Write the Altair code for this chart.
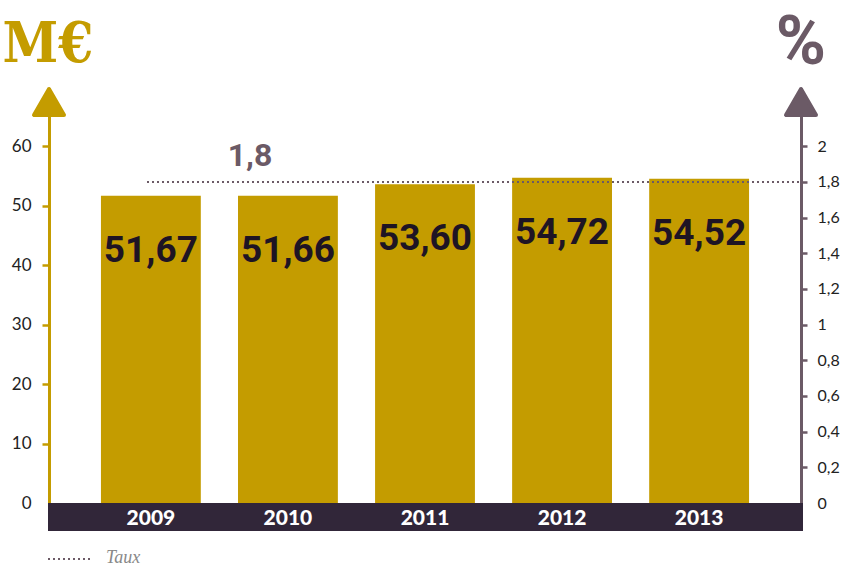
import altair as alt
import pandas as pd

# ---- data ----
years = ["2009", "2010", "2011", "2012", "2013"]
values = [51.67, 51.66, 53.60, 54.72, 54.52]
rate = [1.8]
rate_label = ["1,8"]
left_ticks = [0, 10, 20, 30, 40, 50, 60]
right_ticks = [0, 0.2, 0.4, 0.6, 0.8, 1, 1.2, 1.4, 1.6, 1.8, 2]
legend_label = ["Taux"]

GOLD = "#c49c00"
PURPLE = "#6b5a66"
DARK = "#312639"
COND = "Roboto, DejaVu Sans Condensed, sans-serif"
W, H = 752, 415
YMAX = 69.8
RMAX = YMAX / 30

df = pd.DataFrame({
    "year": years,
    "value": values,
    "label": [f"{v:.2f}".replace(".", ",") for v in values],
})
one = pd.DataFrame({"a": [0]})
rate_df = pd.DataFrame({"rate": rate, "label": rate_label})

xenc = alt.X(
    "year:N", sort=years,
    scale=alt.Scale(paddingInner=0.2714, paddingOuter=0.379),
    axis=alt.Axis(title=None, labelColor="white", labelFontSize=21, labelFontWeight=900,
                  labelFont="Lato", ticks=False, tickSize=0, domain=False, labelPadding=15,
                  labelBaseline="middle", labelAngle=0, zindex=1, grid=False),
)
yleft = alt.Y(
    "value:Q", scale=alt.Scale(domain=[0, YMAX], nice=False, zero=True),
    axis=alt.Axis(title=None, orient="left", values=left_ticks, grid=False,
                  domainColor=GOLD, domainWidth=3,
                  tickColor={"condition": {"test": "datum.value == 0", "value": "transparent"}, "value": GOLD},
                  tickWidth=2.5, tickSize=7, labelPadding=11, labelFont="Lato",
                  labelFontSize=17, labelColor="#222222"),
)

band = alt.Chart(one).mark_rect(color=DARK).encode(
    x=alt.value(-1), x2=alt.value(W + 2), y=alt.value(H), y2=alt.value(H + 28))

bars = alt.Chart(df).mark_bar(color=GOLD).encode(x=xenc, y=yleft)

labels = alt.Chart(df).mark_text(
    font=COND, fontWeight="bold", fontSize=37, color="#1e1424",
    baseline="middle", dy=55).encode(
    x=alt.X("year:N", sort=years),
    y=alt.Y("value:Q", scale=alt.Scale(domain=[0, YMAX], nice=False)),
    text="label:N")

larrow = alt.Chart(one).mark_point(
    shape="triangle-up", filled=True, fill=GOLD, stroke=GOLD, strokeWidth=4,
    strokeJoin="round", size=900, opacity=1).encode(x=alt.value(0), y=alt.value(14))

mtitle = alt.Chart(one).mark_text(
    text="M€", font="DejaVu Serif Condensed, DejaVu Serif, serif", fontWeight="bold",
    fontSize=56, color=GOLD, align="center", baseline="middle").encode(
    x=alt.value(-1), y=alt.value(-43))

leg_rule = alt.Chart(one).mark_rule(color=PURPLE, strokeDash=[2, 3], strokeWidth=2).encode(
    x=alt.value(-1), x2=alt.value(41), y=alt.value(H + 56))
leg_text = alt.Chart(pd.DataFrame({"t": legend_label})).mark_text(
    font="Liberation Serif", fontStyle="italic", fontSize=18, color="#888888",
    align="left", baseline="middle").encode(x=alt.value(57), y=alt.value(H + 55), text="t:N")

left = alt.layer(band, bars, labels, larrow, mtitle, leg_rule, leg_text)

yright = alt.Y(
    "rate:Q", scale=alt.Scale(domain=[0, RMAX], nice=False, zero=True),
    axis=alt.Axis(title=None, orient="right", values=right_ticks, grid=False,
                  domainColor=PURPLE, domainWidth=3,
                  tickColor={"condition": {"test": "datum.value == 0", "value": "transparent"}, "value": PURPLE},
                  tickWidth=2.5, tickSize=6, labelPadding=10, labelFont="Lato",
                  labelFontSize=16, labelColor="#222222",
                  labelExpr="replace(format(datum.value, '~g'), '.', ',')"),
)

rule = alt.Chart(rate_df).mark_rule(color=PURPLE, strokeDash=[2, 3], strokeWidth=2).encode(
    x=alt.value(98), x2=alt.value(W), y=yright)

rule_text = alt.Chart(rate_df).mark_text(
    font=COND, fontWeight="bold", fontSize=32, color=PURPLE,
    baseline="middle", align="center", dy=-26).encode(
    x=alt.value(201),
    y=alt.Y("rate:Q", scale=alt.Scale(domain=[0, RMAX], nice=False)),
    text="label:N")

rarrow = alt.Chart(one).mark_point(
    shape="triangle-up", filled=True, fill=PURPLE, stroke=PURPLE, strokeWidth=4,
    strokeJoin="round", size=900, opacity=1).encode(x=alt.value(W), y=alt.value(14))

pct = alt.Chart(one).mark_text(
    text="%", font=COND, fontWeight="bold", fontSize=68, color=PURPLE,
    align="center", baseline="middle").encode(x=alt.value(W), y=alt.value(-44))

right = alt.layer(rule, rule_text, rarrow, pct)

chart = alt.layer(left, right).resolve_scale(y="independent").properties(
    width=W, height=H,
    autosize=alt.AutoSizeParams(type="none"),
    padding={"left": 49, "top": 88, "right": 46, "bottom": 63},
).configure_view(stroke=None)

chart.save("out.html", embed_options={"renderer": "svg", "actions": False})
